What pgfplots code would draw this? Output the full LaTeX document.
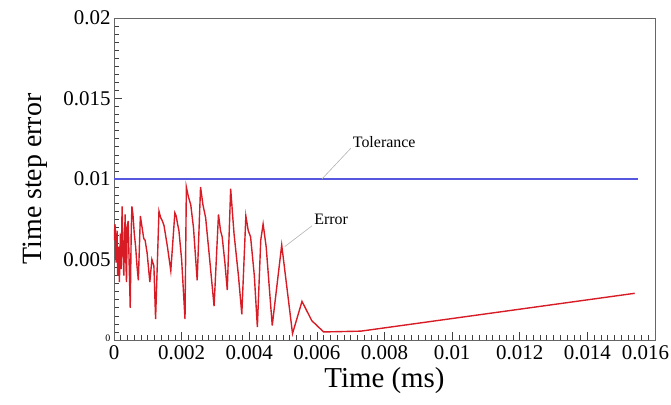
\documentclass[border=0pt]{standalone}
\usepackage{pgfplots}
\pgfplotsset{compat=1.18}
\usepackage{fontspec}
\setmainfont{Liberation Serif}

\definecolor{tolblue}{RGB}{85,88,222}
\definecolor{errred}{RGB}{215,28,38}

\begin{document}
\begin{tikzpicture}
\begin{axis}[
  scale only axis,
  width=541bp, height=322bp,
  xmin=0, xmax=0.016,
  ymin=0, ymax=0.02,
  xtick={0,0.002,...,0.016},
  xticklabels={0,0.002,0.004,0.006,0.008,0.01,0.012,0.014,{\makebox[28bp][r]{0.016}}},
  ytick={0,0.005,0.01,0.015,0.02},
  yticklabels={{\fontsize{10}{11}\selectfont\raisebox{4bp}{0}},0.005,0.01,0.015,0.02},
  minor x tick num=9,
  minor y tick num=9,
  tick align=inside,
  xtick pos=bottom, ytick pos=left,
  major tick length=8bp, minor tick length=5bp,
  every tick/.style={black!75, line width=0.7pt},
  axis line style={black!60, line width=0.8pt},
  scaled ticks=false,
  tick label style={font=\fontsize{21}{25}\selectfont},
  /pgf/number format/assume math mode=true,
  xticklabel style={yshift=-2bp},
  xlabel={Time (ms)},
  ylabel={Time step error},
  xlabel style={font=\fontsize{29}{34}\selectfont, yshift=-1bp},
  ylabel style={font=\fontsize{28}{33}\selectfont, yshift=9bp},
]
\coordinate (O) at (rel axis cs:0,0);
\addplot[tolblue, line width=1.4pt] coordinates {(0,0.01) (0.0155,0.01)};
\addplot[errred, line width=1.4pt] coordinates {
(0,0.0062) (0.00003,0.0072) (0.00006,0.0048) (0.00009,0.0068) (0.00011,0.0040)
(0.00014,0.0058) (0.00016,0.0036) (0.00019,0.0066) (0.00021,0.0044) (0.00024,0.0083)
(0.00027,0.0052) (0.00029,0.0040) (0.00031,0.0062) (0.00033,0.0078) (0.00035,0.0050)
(0.00037,0.0036) (0.00039,0.0070) (0.00042,0.0074) (0.00045,0.0046) (0.00048,0.0020)
(0.00051,0.0068) (0.00053,0.0083) (0.00056,0.0078) (0.00060,0.0066) (0.00064,0.0058)
(0.00068,0.0046) (0.00072,0.0037) (0.00078,0.0077) (0.00083,0.0070) (0.00088,0.0063)
(0.00092,0.0062) (0.00098,0.0054) (0.00106,0.0036) (0.00112,0.0050) (0.00118,0.0046)
(0.00123,0.0013) (0.00133,0.0080) (0.00138,0.0076) (0.00143,0.0074) (0.00148,0.0071)
(0.00158,0.0058) (0.00168,0.0043) (0.00180,0.0079) (0.00184,0.0077) (0.00188,0.0072)
(0.00192,0.0068) (0.00200,0.0050) (0.00210,0.0013) (0.00214,0.0095) (0.00220,0.0089)
(0.00227,0.0084) (0.00235,0.0070) (0.00246,0.0037) (0.00256,0.0095) (0.00263,0.0084)
(0.00271,0.0076) (0.00283,0.0050) (0.00296,0.0021) (0.00309,0.0078) (0.00315,0.0068)
(0.00320,0.0064) (0.00328,0.0048) (0.00335,0.0031) (0.00345,0.0094) (0.00350,0.0080)
(0.00355,0.0066) (0.00368,0.0040) (0.00378,0.0016) (0.00390,0.0077) (0.00397,0.0068)
(0.00404,0.0064) (0.00415,0.0040) (0.00424,0.0008) (0.00434,0.0062) (0.00441,0.0072)
(0.00450,0.0058) (0.00468,0.0009) (0.00496,0.0059) (0.00528,0.0004) (0.00556,0.0024)
(0.00585,0.0012) (0.00620,0.0005) (0.00730,0.00055) (0.01540,0.0029)
};
% annotation leaders
\draw[gray!60, line width=0.6pt] (axis cs:0.00615,0.01) -- (axis cs:0.0070,0.0119);
\node[anchor=west, font=\fontsize{16}{19}\selectfont, inner sep=2bp] at (axis cs:0.0070,0.0123) {Tolerance};
\draw[gray!60, line width=0.6pt] (axis cs:0.00505,0.0058) -- (axis cs:0.00586,0.0071);
\node[anchor=west, font=\fontsize{16}{19}\selectfont, inner sep=2bp] at (axis cs:0.00586,0.0075) {Error};
\end{axis}
\pgfresetboundingbox
\path ([shift={(-114bp,-65bp)}]O) rectangle ([shift={(557bp,340bp)}]O);
\end{tikzpicture}
\end{document}
